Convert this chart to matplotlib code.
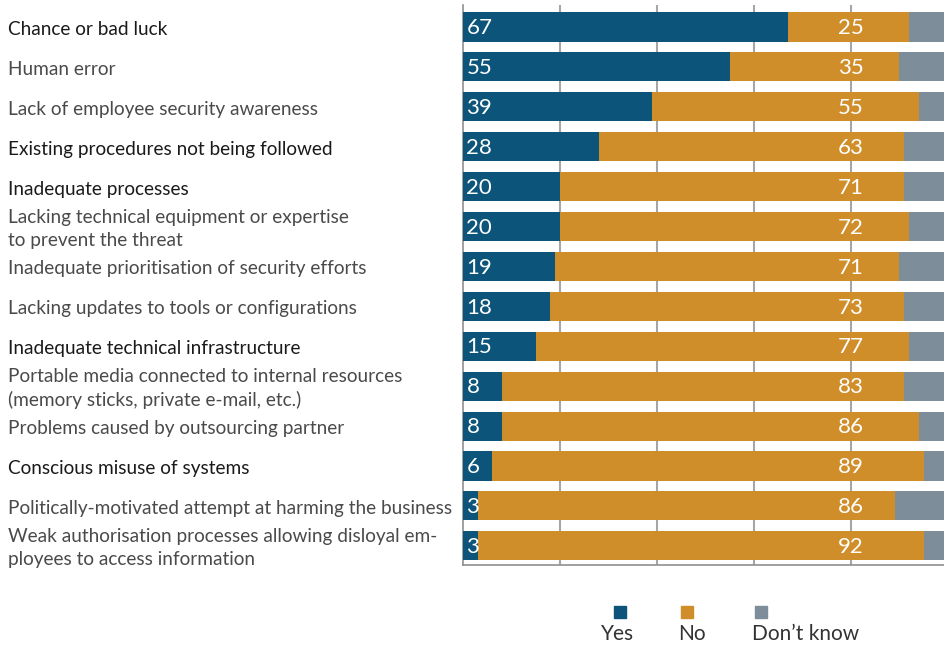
import matplotlib
matplotlib.use("Agg")
import matplotlib.pyplot as plt
from matplotlib.patches import Rectangle
import numpy as np

categories = [
    "Chance or bad luck",
    "Human error",
    "Lack of employee security awareness",
    "Existing procedures not being followed",
    "Inadequate processes",
    "Lacking technical equipment or expertise\nto prevent the threat",
    "Inadequate prioritisation of security efforts",
    "Lacking updates to tools or configurations",
    "Inadequate technical infrastructure",
    "Portable media connected to internal resources\n(memory sticks, private e-mail, etc.)",
    "Problems caused by outsourcing partner",
    "Conscious misuse of systems",
    "Politically-motivated attempt at harming the business",
    "Weak authorisation processes allowing disloyal em-\nployees to access information",
]
yes = [67, 55, 39, 28, 20, 20, 19, 18, 15, 8, 8, 6, 3, 3]
no = [25, 35, 55, 63, 71, 72, 71, 73, 77, 83, 86, 89, 86, 92]
dont_know = [8, 10, 6, 9, 9, 8, 10, 9, 8, 9, 6, 5, 11, 5]
dark_labels = [True, False, False, True, True, False, False, False, True, False, False, True, False, False]
series_names = ["Yes", "No", "Don\u2019t know"]

c_yes = "#0c5479"
c_no = "#d08e2a"
c_dk = "#7d8d99"

plt.rcParams['font.family'] = ['Lato', 'DejaVu Sans']

fig = plt.figure(figsize=(9.45, 6.48), dpi=100)
ax = fig.add_axes([463/945, 1 - 565/648, 485/945, (565 - 5)/648])

n = len(categories)
y = np.arange(n)
h = 0.73
yes_a = np.array(yes)
no_a = np.array(no)
dk_a = np.array(dont_know)
ax.barh(y, yes_a, height=h, color=c_yes, zorder=3)
ax.barh(y, no_a, left=yes_a, height=h, color=c_no, zorder=3)
ax.barh(y, dk_a, left=yes_a + no_a, height=h, color=c_dk, zorder=3)

ax.set_xlim(0, 100)
ax.set_ylim(n - 1 + 0.48, -0.55)
ax.set_xticks([20, 40, 60, 80])
ax.set_xticklabels([])
ax.tick_params(length=0)
ax.set_yticks([])
ax.grid(axis='x', color='#a6a6a6', linewidth=1.5, zorder=0)
for s in ['top', 'right']:
    ax.spines[s].set_visible(False)
for s in ['left', 'bottom']:
    ax.spines[s].set_color('#909090')
    ax.spines[s].set_linewidth(1.2)

for i in range(n):
    ax.text(0.7, y[i] + 0.03, str(yes[i]), color='white', fontsize=16,
            ha='left', va='center', zorder=4)
    ax.text(80, y[i] + 0.03, str(no[i]), color='white', fontsize=16,
            ha='center', va='center', zorder=4)
    ax.text(-93.8, y[i] + 0.06, categories[i], color='#1a1a1a' if dark_labels[i] else '#4a4a4a',
            fontsize=13.7, ha='left', va='center', linespacing=1.4, clip_on=False)

# legend
cols = [c_yes, c_no, c_dk]
sq_x = [614, 681, 755]
txt_x = [618, 692, 806]
for cx, tx, col, name in zip(sq_x, txt_x, cols, series_names):
    fig.add_artist(Rectangle((cx / 945, 1 - 618 / 648), 12 / 945, 12 / 648,
                             transform=fig.transFigure, color=col))
    fig.text(tx / 945, 1 - 634 / 648, name, ha='center', va='center',
             fontsize=15, color='#333333')

fig.savefig("out.png", dpi=100)
